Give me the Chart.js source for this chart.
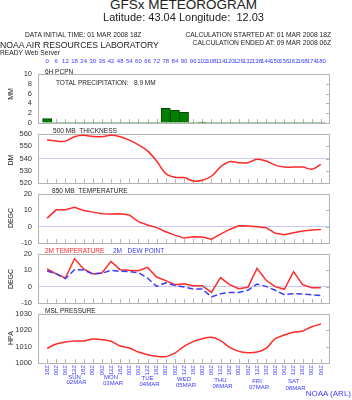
<!DOCTYPE html>
<html>
<head>
<meta charset="utf-8">
<script src="https://cdn.jsdelivr.net/npm/chart.js@4.4.1/dist/chart.umd.min.js"></script>
<style>
  html, body { margin: 0; padding: 0; background: #fff; }
  #page { position: relative; width: 352px; height: 400px; overflow: hidden; font-family: "Liberation Sans", Arial, sans-serif; color: #222; }
  #page canvas { position: absolute; left: 0; }
  .t { position: absolute; white-space: nowrap; line-height: 1; }
  .yt { position: absolute; white-space: nowrap; line-height: 1; font-size: 7px; transform: translate(-50%, -50%) rotate(-90deg); }
  .blue { color: #3a3aff; }
  .red { color: #ff2a2a; }
</style>
</head>
<body>
<div id="page">
  <canvas id="cPcpn" width="352" height="77" style="top:54px"></canvas>
  <canvas id="cThick" width="352" height="65" style="top:126px"></canvas>
  <canvas id="c850" width="352" height="65" style="top:186px"></canvas>
  <canvas id="c2m" width="352" height="65" style="top:246px"></canvas>
  <canvas id="cMsl" width="352" height="94" style="top:306px"></canvas>

  <div class="t" style="left:0;width:367px;text-align:center;top:-2px;font-size:13.5px">GFSx METEOROGRAM</div>
  <div class="t" style="left:0;width:367px;text-align:center;top:11.6px;font-size:11px">Latitude: 43.04 Longitude:&nbsp; 12.03</div>
  <div class="t" style="left:25px;top:32.4px;font-size:6.7px">DATA INITIAL TIME: 01 MAR 2008 18Z</div>
  <div class="t" style="right:21px;top:32.4px;font-size:6.7px">CALCULATION STARTED AT: 01 MAR 2008 18Z</div>
  <div class="t" style="right:21px;top:40px;font-size:6.7px">CALCULATION ENDED AT: 09 MAR 2008 06Z</div>
  <div class="t" style="left:0;top:41.2px;font-size:8.7px">NOAA AIR RESOURCES LABORATORY</div>
  <div class="t" style="left:0;top:49.5px;font-size:6.7px">READY Web Server</div>

  <div class="t" style="left:45px;top:68.5px;font-size:6.5px">6H PCPN</div>
  <div class="t" style="left:56px;top:79.5px;font-size:6.5px">TOTAL PRECIPITATION:&nbsp;&nbsp; 8.9 MM</div>
  <div class="t" style="left:53px;top:127.8px;font-size:6.6px">500 MB&nbsp; THICKNESS</div>
  <div class="t" style="left:52px;top:188px;font-size:6.6px">850 MB&nbsp; TEMPERATURE</div>
  <div class="t red" style="left:45px;top:247.5px;font-size:6.5px">2M TEMPERATURE</div>
  <div class="t blue" style="left:113px;top:247.5px;font-size:6.5px">2M&nbsp;&nbsp; DEW POINT</div>
  <div class="t" style="left:45px;top:308.1px;font-size:6.5px">MSL PRESSURE</div>

  <div class="yt" style="left:10px;top:94px">MM</div>
  <div class="yt" style="left:10px;top:160px">DM</div>
  <div class="yt" style="left:10px;top:218px">DEGC</div>
  <div class="yt" style="left:10px;top:279px">DEGC</div>
  <div class="yt" style="left:10px;top:338px">HPA</div>

  <div class="t blue" style="right:1px;top:390px;font-size:8px">NOAA (ARL)</div>
</div>
<script>
// forecast hours (every 6h from 01 MAR 18Z)
const hours = [0, 6, 12, 18, 24, 30, 36, 42, 48, 54, 60, 66, 72, 78, 84, 90, 96, 102, 108, 114, 120, 126, 132, 138, 144, 150, 156, 162, 168, 174, 180];
const timeLabels = ['18Z', '00Z', '06Z', '12Z', '18Z', '00Z', '06Z', '12Z', '18Z', '00Z', '06Z', '12Z', '18Z', '00Z', '06Z', '12Z',
  '18Z', '00Z', '06Z', '12Z', '18Z', '00Z', '06Z', '12Z', '18Z', '00Z', '06Z', '12Z', '18Z', '00Z', '06Z'];
const dayNames = ['SUN', 'MON', 'TUE', 'WED', 'THU', 'FRI', 'SAT'];
const dayDates = ['02MAR', '03MAR', '04MAR', '05MAR', '06MAR', '07MAR', '08MAR'];
const dayNoon = [18, 42, 66, 90, 114, 138, 162];

const pcpn = [0.9, 0, 0, 0, 0, 0, 0, 0, 0, 0, 0, 0, 0, 3.0, 2.6, 2.2, 0, 0.2, 0, 0, 0, 0, 0, 0, 0, 0, 0, 0, 0, 0, 0];
const thick500 = [555.3, 554.2, 554.2, 557.8, 558.9, 558.0, 557.8, 558.9, 557.8, 555.0, 551.2, 546.2, 538.0, 527.7, 524.7, 524.4,
  521.7, 522.2, 525.5, 533.2, 537.4, 536.6, 536.6, 539.3, 538.0, 534.6, 533.0, 533.0, 533.0, 531.3, 535.2];
const temp850 = [5.2, 10.3, 10.3, 11.8, 9.9, 8.9, 7.9, 7.7, 7.9, 7.2, 3.1, 1.0, -0.6, -3.1, -5.2, -7.0,
  -6.2, -6.4, -7.7, -4.6, -1.7, 0.6, 0.4, 0.0, -0.6, -4.1, -5.0, -3.7, -2.7, -2.1, -1.7];
const temp2m = [10.8, 7.8, 5.3, 17.1, 10.8, 7.8, 8.4, 15.5, 10.4, 10.0, 9.8, 11.8, 5.9, 3.7, 1.2, 1.8,
  0.6, 0.6, -3.5, 5.5, 1.2, -1.2, -0.4, 11.2, 3.9, 0.0, -1.6, 9.2, 1.2, -0.6, -0.6];
const dew2m = [9.6, 7.8, 4.9, 10.4, 10.2, 7.8, 8.2, 10.0, 9.4, 9.2, 8.6, 5.3, 0.2, 2.4, 0.8, -0.2,
  -1.4, -1.4, -6.3, -4.3, -3.5, -3.5, -2.2, 1.6, 0.2, -2.2, -4.9, -4.3, -4.5, -4.9, -5.5];
const mslp = [1009.0, 1011.6, 1012.9, 1013.5, 1013.5, 1014.7, 1014.3, 1013.3, 1010.4, 1009.2, 1006.7, 1005.1, 1004.1, 1003.9, 1006.1, 1010.2,
  1013.1, 1014.9, 1015.7, 1013.7, 1009.6, 1007.1, 1006.3, 1006.7, 1009.0, 1014.9, 1017.1, 1018.8, 1019.6, 1022.2, 1023.9];

Chart.defaults.font.family = '"Liberation Sans", Arial, sans-serif';
Chart.defaults.animation = false;

const BLUE = '#3a3aff';
const RED = '#ff2a2a';
const pts = (vals) => hours.map((h, i) => ({ x: h, y: vals[i] }));

// gray box round the plot, little ticks inside on the bottom and right
const framePlugin = {
  id: 'frame',
  beforeDatasetsDraw(chart) {
    const { ctx, chartArea: a, scales } = chart;
    ctx.save();
    ctx.strokeStyle = '#b4b4b4';
    ctx.lineWidth = 1;
    ctx.strokeRect(a.left + 0.5, a.top + 0.5, a.right - a.left - 1, a.bottom - a.top);
    ctx.beginPath();
    hours.forEach(h => {
      const x = Math.round(scales.x.getPixelForValue(h)) + 0.5;
      ctx.moveTo(x, a.bottom);
      ctx.lineTo(x, a.bottom - 4);
    });
    scales.y.ticks.forEach(t => {
      const y = Math.round(scales.y.getPixelForValue(t.value)) + 0.5;
      ctx.moveTo(a.right - 1, y);
      ctx.lineTo(a.right - 4, y);
    });
    ctx.stroke();
    ctx.restore();
  }
};

const topHoursPlugin = {
  id: 'topHours',
  afterDraw(chart) {
    const { ctx, chartArea: a, scales } = chart;
    ctx.save();
    ctx.font = '6px "Liberation Sans", Arial, sans-serif';
    ctx.fillStyle = BLUE;
    ctx.textAlign = 'center';
    ctx.textBaseline = 'middle';
    hours.forEach(h => ctx.fillText(String(h), scales.x.getPixelForValue(h), a.top - 12.3));
    ctx.restore();
  }
};

const daysPlugin = {
  id: 'days',
  afterDraw(chart) {
    const { ctx, chartArea: a, scales } = chart;
    ctx.save();
    ctx.font = '6px "Liberation Sans", Arial, sans-serif';
    ctx.fillStyle = BLUE;
    ctx.textAlign = 'center';
    ctx.textBaseline = 'middle';
    dayNoon.forEach((h, i) => {
      const x = scales.x.getPixelForValue(h);
      ctx.fillText(dayNames[i], x, a.bottom + 14 + i * 0.8);
      ctx.fillText(dayDates[i], x + 2, a.bottom + 19.5 + i * 0.9);
    });
    ctx.restore();
  }
};

function makeOptions(yMin, yMax, yStep, refValue, padTop, padBottom, showX) {
  return {
    responsive: false,
    devicePixelRatio: 1,
    layout: { padding: { top: padTop, bottom: padBottom, left: 0, right: 22 } },
    plugins: { legend: { display: false }, tooltip: { enabled: false } },
    scales: {
      x: {
        type: 'linear',
        min: -6,
        max: 186,
        offset: false,
        display: showX,
        border: { display: false },
        grid: { display: false, drawTicks: false },
        afterBuildTicks: (s) => { s.ticks = hours.map(v => ({ value: v })); },
        afterFit: (s) => {
          s.height = showX ? 37 : 0;
          s.paddingLeft = 0;
          s.paddingRight = 0;
        },
        ticks: {
          autoSkip: false,
          minRotation: 90,
          maxRotation: 90,
          padding: 2,
          color: BLUE,
          font: { size: 6 },
          callback: (v, i) => timeLabels[i]
        }
      },
      y: {
        min: yMin,
        max: yMax,
        border: { display: false },
        grid: {
          drawTicks: false,
          lineWidth: 1,
          color: (c) => (refValue !== null && c.tick && c.tick.value === refValue) ? '#c8c8ff' : 'rgba(0,0,0,0)'
        },
        afterFit: (s) => { s.width = 38; s.paddingTop = 0; s.paddingBottom = 0; },
        ticks: { stepSize: yStep, autoSkip: false, padding: 6, color: '#333', font: { size: 7.5 }, callback: (v) => String(v) }
      }
    }
  };
}

function lineSet(vals, color, tension, dash) {
  return {
    data: pts(vals),
    borderColor: color,
    borderWidth: 1.5,
    borderDash: dash || [],
    pointRadius: 0,
    tension: tension,
    fill: false
  };
}

new Chart(document.getElementById('cPcpn'), {
  type: 'bar',
  data: {
    datasets: [{
      data: pts(pcpn),
      backgroundColor: '#008000',
      borderColor: '#004400',
      borderWidth: (c) => (c.raw && c.raw.y > 0) ? 1 : 0,
      borderSkipped: 'bottom',
      barPercentage: 1,
      categoryPercentage: 1
    }]
  },
  options: makeOptions(0, 10, 2, null, 20, 8, false),
  plugins: [framePlugin, topHoursPlugin]
});

new Chart(document.getElementById('cThick'), {
  type: 'line',
  data: { datasets: [lineSet(thick500, RED, 0.35)] },
  options: makeOptions(520, 560, 10, 540, 8, 8, false),
  plugins: [framePlugin]
});

new Chart(document.getElementById('c850'), {
  type: 'line',
  data: { datasets: [lineSet(temp850, RED, 0)] },
  options: makeOptions(-10, 20, 10, 0, 8, 8, false),
  plugins: [framePlugin]
});

new Chart(document.getElementById('c2m'), {
  type: 'line',
  data: { datasets: [lineSet(dew2m, BLUE, 0, [6, 3]), lineSet(temp2m, RED, 0)] },
  options: makeOptions(-10, 20, 10, 0, 8, 8, false),
  plugins: [framePlugin]
});

new Chart(document.getElementById('cMsl'), {
  type: 'line',
  data: { datasets: [lineSet(mslp, RED, 0.35)] },
  options: makeOptions(1000, 1030, 10, null, 8, 0, true),
  plugins: [framePlugin, daysPlugin]
});
</script>
</body>
</html>
